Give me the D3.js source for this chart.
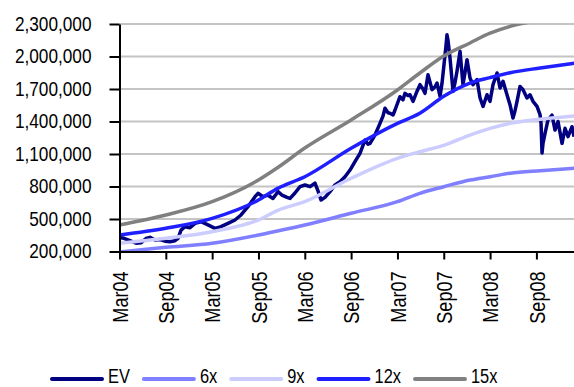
<!DOCTYPE html>
<html>
<head>
<meta charset="utf-8">
<script src="https://cdn.jsdelivr.net/npm/d3@7"></script>
<style>
  body { margin: 0; background: #fff; }
  svg { display: block; }
</style>
</head>
<body>
<div id="graph"></div>
<script>
// x values are months since Mar 2004, y values are in thousands
var xTickValues = [0, 6, 12, 18, 24, 30, 36, 42, 48, 54];
var xTickLabels = ['Mar04', 'Sep04', 'Mar05', 'Sep05', 'Mar06', 'Sep06', 'Mar07', 'Sep07', 'Mar08', 'Sep08'];
var yTickValues = [200, 500, 800, 1100, 1400, 1700, 2000, 2300];

// multiple lines (6x, 9x, 12x, 15x)
var multMonths = [0, 6, 12, 18, 20.5, 24, 30, 36, 38.9, 42, 45.4, 48, 50.6, 54.5, 58.9];
var mult6  = [196, 239, 276, 352, 390, 445, 553, 660, 737, 798, 860, 890, 922, 946, 968];
var mult9  = [276, 322, 383, 491, 580, 660, 876, 1060, 1121, 1180, 1275, 1337, 1383, 1420, 1450];
var mult12 = [352, 414, 506, 675, 783, 890, 1153, 1383, 1476, 1633, 1755, 1805, 1850, 1894, 1938];
var mult15 = [445, 537, 660, 860, 975, 1155, 1414, 1691, 1848, 2005, 2125, 2215, 2278, 2335, 2380];

// EV line
var evMonths = [0.06, 0.58, 1.36, 2.14, 2.78, 3.43, 3.95, 4.60, 5.25, 5.89, 6.54, 7.19, 7.58, 7.97, 8.48,
    9.13, 9.78, 10.56, 11.46, 12.37, 13.15, 14.05, 14.96, 15.74, 16.64, 17.55, 17.94, 18.59, 19.24, 19.88,
    20.53, 21.05, 21.70, 22.09, 22.73, 23.38, 24.03, 24.68, 25.32, 25.71, 26.10, 26.62, 27.27, 27.91, 28.56,
    29.21, 29.86, 30.50, 31.15, 31.54, 31.80, 32.19, 32.45, 33.09, 33.74, 34.13, 34.39, 34.78, 35.04, 35.43,
    35.69, 36.07, 36.33, 36.72, 36.98, 37.37, 37.63, 38.02, 38.54, 38.92, 39.31, 39.57, 39.96, 40.48, 40.87,
    41.13, 41.52, 41.77, 42.03, 42.29, 42.42, 42.55, 42.81, 43.20, 43.46, 43.72, 44.11, 44.49, 44.75, 45.01,
    45.40, 45.79, 46.31, 46.70, 47.09, 47.60, 47.99, 48.38, 48.90, 49.29, 49.68, 50.19, 50.58, 50.97, 51.23,
    51.49, 51.88, 52.27, 52.78, 53.17, 53.56, 54.08, 54.47, 54.60, 54.73, 54.86, 55.12, 55.50, 56.02, 56.41,
    56.80, 57.32, 57.71, 58.10, 58.61, 58.87];
var evValues = [330, 322, 300, 276, 280, 320, 331, 306, 310, 295, 290, 300, 322, 398, 429,
    420, 460, 475, 445, 414, 429, 460, 491, 537, 614, 706, 737, 706, 720, 690,
    752, 721, 700, 690, 740, 798, 814, 798, 832, 760, 675, 700, 752, 814, 844,
    890, 952, 1029, 1106, 1180, 1229, 1190, 1198, 1275, 1383, 1450, 1522, 1480, 1476, 1460,
    1506, 1580, 1629, 1600, 1660, 1640, 1647, 1586, 1680, 1740, 1700, 1660, 1832, 1694, 1720,
    1755, 1633, 1750, 1924, 2100, 2201, 2150, 1986, 1678, 1760, 1866, 2048, 1740, 1850, 1971,
    1801, 1740, 1786, 1617, 1540, 1647, 1586, 1740, 1848, 1709, 1771, 1647, 1555, 1432, 1500,
    1586, 1724, 1694, 1617, 1647, 1586, 1540, 1463, 1383, 1109, 1200, 1291, 1414, 1460, 1321,
    1400, 1198, 1337, 1260, 1352, 1260];

var seriesNames  = ['EV', '6x', '9x', '12x', '15x'];
var seriesColors = ['#000080', '#7f7fff', '#ccccff', '#1f1fff', '#808080'];

var W = 574, H = 387;
var plot = { left: 119.5, right: 574, top: 24, bottom: 251.5 };
var labelFont = '"Liberation Sans", Arial, sans-serif';
var narrow = 0.82;   // squeeze the Arial-like font into an Arial Narrow look

// squeeze a text selection horizontally (along its own baseline)
var squeeze = function (sel)
{
    sel.each(function ()
    {
        var len = this.getComputedTextLength();
        d3.select(this)
          .attr('textLength', len * narrow)
          .attr('lengthAdjust', 'spacingAndGlyphs');
    });
};

var svg = d3.select('#graph').append('svg')
            .attr('width', W)
            .attr('height', H)
            .style('font-family', labelFont);

var xScale = d3.scaleLinear().domain([0, 58.87]).range([plot.left, plot.right]);
var yScale = d3.scaleLinear().domain([200, 2300]).range([plot.bottom, plot.top]);

// gridlines
svg.append('g')
   .selectAll('line')
   .data(yTickValues.slice(1))
   .enter()
   .append('line')
   .attr('x1', plot.left)
   .attr('x2', plot.right)
   .attr('y1', function(d) { return yScale(d); })
   .attr('y2', function(d) { return yScale(d); })
   .attr('stroke', '#c4c4c4')
   .attr('stroke-width', 2);

// clip for the lines
svg.append('clipPath').attr('id', 'clip')
   .append('rect')
   .attr('x', plot.left)
   .attr('y', plot.top)
   .attr('width', plot.right - plot.left)
   .attr('height', plot.bottom - plot.top);

var line = d3.line()
             .x(function(d) { return xScale(d[0]); })
             .y(function(d) { return yScale(d[1]); });

var smooth = d3.line()
               .x(function(d) { return xScale(d[0]); })
               .y(function(d) { return yScale(d[1]); })
               .curve(d3.curveMonotoneX);

var lines = svg.append('g').attr('clip-path', 'url(#clip)');

lines.append('path')
     .datum(d3.zip(evMonths, evValues))
     .attr('d', line)
     .attr('fill', 'none')
     .attr('stroke', seriesColors[0])
     .attr('stroke-width', 3.5)
     .attr('stroke-linejoin', 'round');

var mults = [mult6, mult9, mult12, mult15];
for (var i = 0; i < mults.length; i++)
{
    lines.append('path')
         .datum(d3.zip(multMonths, mults[i]))
         .attr('d', smooth)
         .attr('fill', 'none')
         .attr('stroke', seriesColors[i + 1])
         .attr('stroke-width', 3.5);
}

// axes
var yAxis = d3.axisLeft(yScale)
              .tickValues(yTickValues)
              .tickSize(10)
              .tickSizeOuter(0)
              .tickPadding(18)
              .tickFormat(function(d) { return d3.format(',')(d * 1000); });

var gy = svg.append('g')
            .attr('transform', 'translate(' + plot.left + ',0)')
            .call(yAxis);
gy.attr('font-family', null).attr('font-size', null);
gy.selectAll('text')
  .attr('font-size', '21px')
  .attr('fill', '#000')
  .attr('dy', '0.3em')
  .style('font-family', labelFont)
  .call(squeeze);

var xAxis = d3.axisBottom(xScale)
              .tickValues(xTickValues)
              .tickSize(8)
              .tickSizeOuter(0)
              .tickFormat(function(d, i) { return xTickLabels[i]; });

var gx = svg.append('g')
            .attr('transform', 'translate(0,' + plot.bottom + ')')
            .call(xAxis);
gx.attr('font-family', null).attr('font-size', null);
gx.selectAll('text')
  .attr('font-size', '22px')
  .attr('fill', '#000')
  .attr('transform', 'rotate(-90)')
  .attr('x', -20)
  .attr('y', 0)
  .attr('dy', '0.35em')
  .style('text-anchor', 'end')
  .style('font-family', labelFont)
  .call(squeeze);

svg.selectAll('.domain, .tick line').attr('stroke', '#000').attr('stroke-width', 2);

// legend
var legend = svg.append('g');
var lx = 50, ly = 379;
for (var k = 0; k < seriesNames.length; k++)
{
    legend.append('line')
          .attr('x1', lx + 2).attr('x2', lx + 52)
          .attr('y1', ly).attr('y2', ly)
          .attr('stroke', seriesColors[k])
          .attr('stroke-width', 4)
          .attr('stroke-linecap', 'round');

    var t = legend.append('text')
                  .attr('x', lx + 58)
                  .attr('y', ly + 4)
                  .attr('font-size', '20px')
                  .style('font-family', labelFont)
                  .attr('fill', '#000')
                  .text(seriesNames[k]);

    var w = t.node().getComputedTextLength() * narrow;
    t.attr('textLength', w).attr('lengthAdjust', 'spacingAndGlyphs');

    lx = lx + 58 + w + 12;
}
</script>
</body>
</html>
